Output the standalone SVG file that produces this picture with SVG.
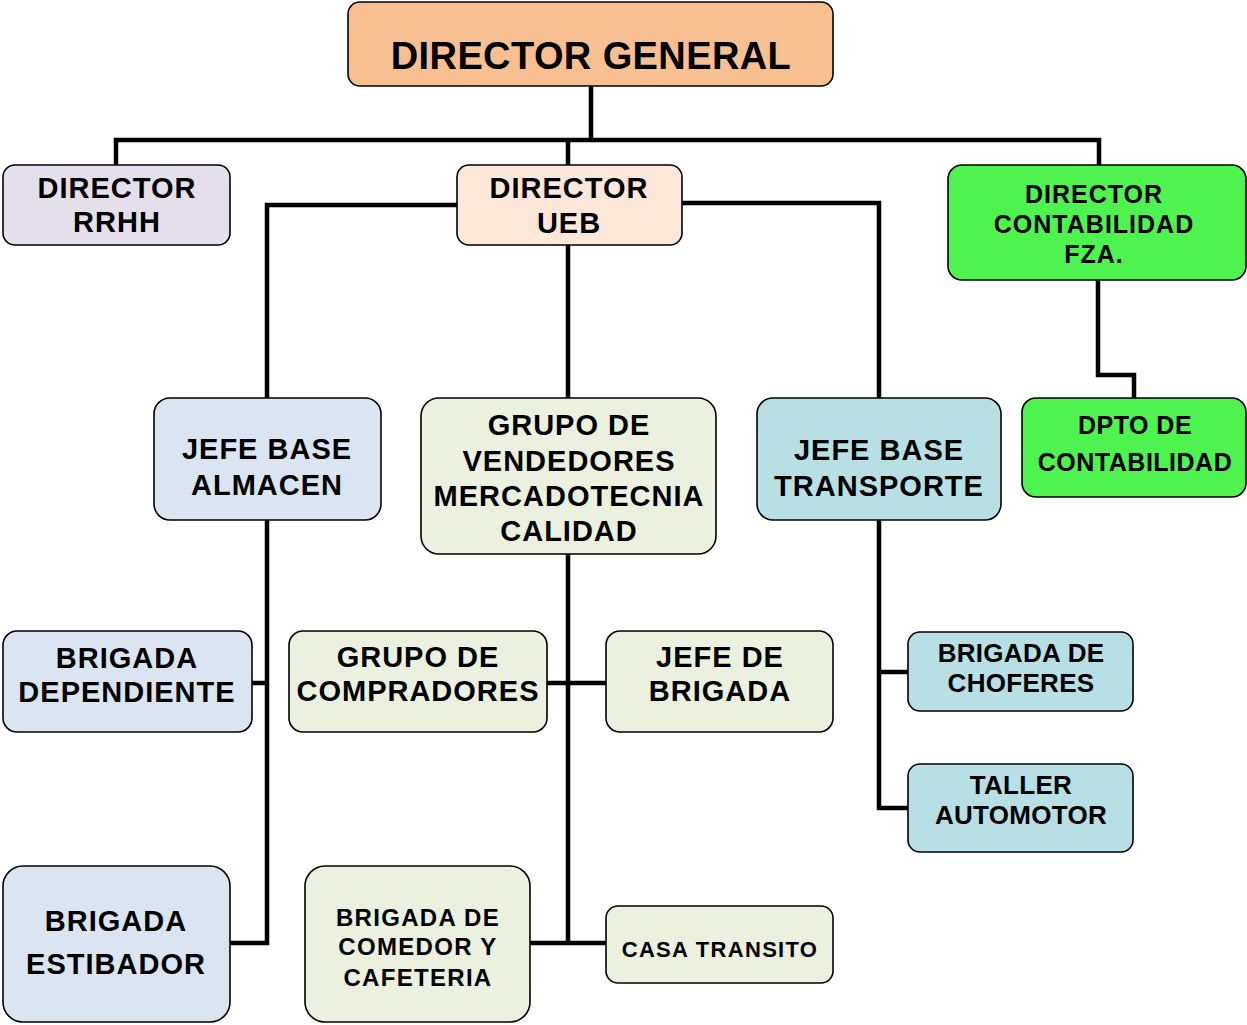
<svg xmlns="http://www.w3.org/2000/svg" width="1247" height="1025" viewBox="0 0 1247 1025">
<style>
.box{stroke:#000;stroke-width:1.6}
.t{font-family:"Liberation Sans",Arial,sans-serif;font-weight:bold;fill:#000;text-anchor:middle}
.m{font-size:29px;letter-spacing:1px}
.s{font-size:26px;letter-spacing:0.3px}
.c{fill:none;stroke:#000;stroke-width:4.5;stroke-linejoin:miter;stroke-linecap:butt}
.peach{fill:#F8BF91}
.lav{fill:#E5DFEC}
.lpeach{fill:#FCE7D8}
.green{fill:#4EF350}
.blue{fill:#DBE5F1}
.olive{fill:#EBF1DE}
.teal{fill:#B8DFE4}
</style>
<rect width="1247" height="1025" fill="#fff"/>
<g id="connectors">
<path class="c" d="M591 86 V140"/>
<path class="c" d="M116 165 V140 H1099 V165"/>
<path class="c" d="M568 140 V165"/>
<path class="c" d="M457 205 H267 V398"/>
<path class="c" d="M682 203 H879 V398"/>
<path class="c" d="M568 245 V398"/>
<path class="c" d="M267 520 V943 H230"/>
<path class="c" d="M267 683 H252"/>
<path class="c" d="M568 554 V945"/>
<path class="c" d="M547 683 H606"/>
<path class="c" d="M530 943 H606"/>
<path class="c" d="M879 520 V808 H908"/>
<path class="c" d="M879 672 H908"/>
<path class="c" d="M1098 280 V375 H1134 V398"/>
</g>
<g id="director-general">
<rect class="box peach" x="348" y="2" width="485" height="84" rx="12"/>
<text class="t" x="591" y="69" font-size="38" letter-spacing="0.4">DIRECTOR GENERAL</text>
</g>
<g id="director-rrhh">
<rect class="box lav" x="3" y="165" width="227" height="80" rx="12"/>
<text class="t m" x="117" y="198">DIRECTOR</text>
<text class="t m" x="117" y="232">RRHH</text>
</g>
<g id="director-ueb">
<rect class="box lpeach" x="457" y="165" width="225" height="80" rx="12"/>
<text class="t m" x="569" y="198">DIRECTOR</text>
<text class="t m" x="569" y="233">UEB</text>
</g>
<g id="director-contabilidad">
<rect class="box green" x="948" y="165" width="298" height="115" rx="14"/>
<text class="t" x="1094" y="203" font-size="25" letter-spacing="1">DIRECTOR</text>
<text class="t" x="1094" y="233" font-size="25" letter-spacing="1">CONTABILIDAD</text>
<text class="t" x="1094" y="263" font-size="25" letter-spacing="1">FZA.</text>
</g>
<g id="dpto-contabilidad">
<rect class="box green" x="1022" y="398" width="224" height="99" rx="14"/>
<text class="t" x="1135" y="434" font-size="25" letter-spacing="0.5">DPTO DE</text>
<text class="t" x="1135" y="471" font-size="25" letter-spacing="0.5">CONTABILIDAD</text>
</g>
<g id="jefe-base-almacen">
<rect class="box blue" x="154" y="398" width="227" height="122" rx="16"/>
<text class="t m" x="267" y="459">JEFE BASE</text>
<text class="t m" x="267" y="495">ALMACEN</text>
</g>
<g id="grupo-vendedores">
<rect class="box olive" x="421" y="398" width="295" height="156" rx="18"/>
<text class="t m" x="569" y="435">GRUPO DE</text>
<text class="t m" x="569" y="471">VENDEDORES</text>
<text class="t m" x="569" y="506">MERCADOTECNIA</text>
<text class="t m" x="569" y="541">CALIDAD</text>
</g>
<g id="jefe-base-transporte">
<rect class="box teal" x="757" y="398" width="244" height="122" rx="16"/>
<text class="t m" x="879" y="460">JEFE BASE</text>
<text class="t m" x="879" y="496">TRANSPORTE</text>
</g>
<g id="brigada-dependiente">
<rect class="box blue" x="3" y="631" width="249" height="101" rx="14"/>
<text class="t m" x="127" y="668">BRIGADA</text>
<text class="t m" x="127" y="702">DEPENDIENTE</text>
</g>
<g id="grupo-compradores">
<rect class="box olive" x="289" y="631" width="258" height="101" rx="14"/>
<text class="t m" x="418" y="667">GRUPO DE</text>
<text class="t m" x="418" y="701">COMPRADORES</text>
</g>
<g id="jefe-de-brigada">
<rect class="box olive" x="606" y="631" width="227" height="101" rx="14"/>
<text class="t m" x="720" y="667">JEFE DE</text>
<text class="t m" x="720" y="701">BRIGADA</text>
</g>
<g id="brigada-choferes">
<rect class="box teal" x="908" y="632" width="225" height="79" rx="12"/>
<text class="t s" x="1021" y="662">BRIGADA DE</text>
<text class="t s" x="1021" y="692">CHOFERES</text>
</g>
<g id="taller-automotor">
<rect class="box teal" x="908" y="764" width="225" height="88" rx="12"/>
<text class="t s" x="1021" y="794">TALLER</text>
<text class="t s" x="1021" y="824">AUTOMOTOR</text>
</g>
<g id="brigada-estibador">
<rect class="box blue" x="3" y="866" width="227" height="156" rx="20"/>
<text class="t m" x="116" y="931">BRIGADA</text>
<text class="t m" x="116" y="974">ESTIBADOR</text>
</g>
<g id="brigada-comedor">
<rect class="box olive" x="305" y="866" width="225" height="156" rx="20"/>
<text class="t" x="418" y="926" font-size="24" letter-spacing="1.3">BRIGADA DE</text>
<text class="t" x="418" y="955" font-size="24" letter-spacing="1.3">COMEDOR Y</text>
<text class="t" x="418" y="986" font-size="24" letter-spacing="1.3">CAFETERIA</text>
</g>
<g id="casa-transito">
<rect class="box olive" x="606" y="906" width="227" height="77" rx="12"/>
<text class="t" x="720" y="957" font-size="22" letter-spacing="1.3">CASA TRANSITO</text>
</g>
</svg>
